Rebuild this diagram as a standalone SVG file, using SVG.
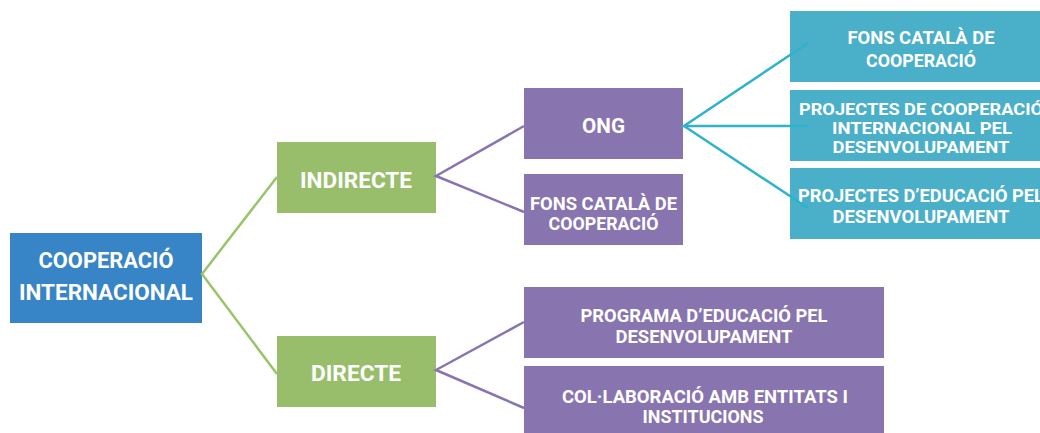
<svg xmlns="http://www.w3.org/2000/svg" width="1040" height="433" viewBox="0 0 1040 433">
<style>
.t{font-family:Roboto,"Liberation Sans",sans-serif;font-weight:700;fill:#fff;text-anchor:middle}
.blue{fill:#3784C6}.green{fill:#98BE6B}.purple{fill:#8874AF}.cyan{fill:#4AAFC8}
.lg{stroke:#98C46B;stroke-width:2.5;fill:none}
.lp{stroke:#8874B0;stroke-width:2.5;fill:none}
.lc{stroke:#2FB2CB;stroke-width:2.5;fill:none}
</style>
<rect width="1040" height="433" fill="#fff"/>
<g id="n-root"><rect class="blue" x="10" y="233" width="192" height="90"/>
<text class="t" font-size="21.5" x="106" y="268" textLength="135" lengthAdjust="spacingAndGlyphs">COOPERACIÓ</text>
<text class="t" font-size="21.5" x="106" y="300" textLength="174" lengthAdjust="spacingAndGlyphs">INTERNACIONAL</text></g>
<g id="n-indirecte"><rect class="green" x="277" y="142" width="159" height="71"/>
<text class="t" font-size="21.5" x="356" y="188" textLength="112" lengthAdjust="spacingAndGlyphs">INDIRECTE</text></g>
<g id="n-directe"><rect class="green" x="277" y="336" width="159" height="71"/>
<text class="t" font-size="21.5" x="356" y="381" textLength="90" lengthAdjust="spacingAndGlyphs">DIRECTE</text></g>
<g id="n-ong"><rect class="purple" x="524" y="88" width="159" height="71"/>
<text class="t" font-size="20" x="603.5" y="133" textLength="43" lengthAdjust="spacingAndGlyphs">ONG</text></g>
<g id="n-fons1"><rect class="purple" x="524" y="174" width="159" height="71"/>
<text class="t" font-size="18" x="603.5" y="210" textLength="147" lengthAdjust="spacingAndGlyphs">FONS CATALÀ DE</text>
<text class="t" font-size="18" x="603.5" y="230" textLength="110" lengthAdjust="spacingAndGlyphs">COOPERACIÓ</text></g>
<g id="n-programa"><rect class="purple" x="524" y="287" width="360" height="71"/>
<text class="t" font-size="18" x="704" y="322" textLength="247" lengthAdjust="spacingAndGlyphs">PROGRAMA D’EDUCACIÓ PEL</text>
<text class="t" font-size="18" x="704" y="343" textLength="177" lengthAdjust="spacingAndGlyphs">DESENVOLUPAMENT</text></g>
<g id="n-col"><rect class="purple" x="524" y="366" width="360" height="67"/>
<text class="t" font-size="18" x="705" y="403" textLength="286" lengthAdjust="spacingAndGlyphs">COL·LABORACIÓ AMB ENTITATS I</text>
<text class="t" font-size="18" x="703" y="423" textLength="121" lengthAdjust="spacingAndGlyphs">INSTITUCIONS</text></g>
<g id="n-fons2"><rect class="cyan" x="790" y="11" width="262" height="71"/>
<text class="t" font-size="18" x="921" y="44" textLength="147" lengthAdjust="spacingAndGlyphs">FONS CATALÀ DE</text>
<text class="t" font-size="18" x="921" y="67" textLength="110" lengthAdjust="spacingAndGlyphs">COOPERACIÓ</text></g>
<g id="n-projcoop"><rect class="cyan" x="790" y="90" width="262" height="71"/>
<text class="t" font-size="16" x="921" y="115" textLength="244" lengthAdjust="spacingAndGlyphs">PROJECTES DE COOPERACIÓ</text>
<text class="t" font-size="16" x="922" y="134" textLength="180" lengthAdjust="spacingAndGlyphs">INTERNACIONAL PEL</text>
<text class="t" font-size="16" x="921" y="153" textLength="177" lengthAdjust="spacingAndGlyphs">DESENVOLUPAMENT</text></g>
<g id="n-projedu"><rect class="cyan" x="790" y="168" width="262" height="71"/>
<text class="t" font-size="18" x="921" y="202" textLength="246" lengthAdjust="spacingAndGlyphs">PROJECTES D’EDUCACIÓ PEL</text>
<text class="t" font-size="18" x="921" y="223" textLength="177" lengthAdjust="spacingAndGlyphs">DESENVOLUPAMENT</text></g>
<g id="connectors">
<polyline class="lg" points="277,177 202,274 277,374"/>
<polyline class="lp" points="524,126 436,176 524,212"/>
<polyline class="lp" points="524,322 436,370 524,408"/>
<polyline class="lc" points="808,43 684,126 808,126"/>
<line class="lc" x1="684" y1="126" x2="808" y2="208"/>
</g>
</svg>
